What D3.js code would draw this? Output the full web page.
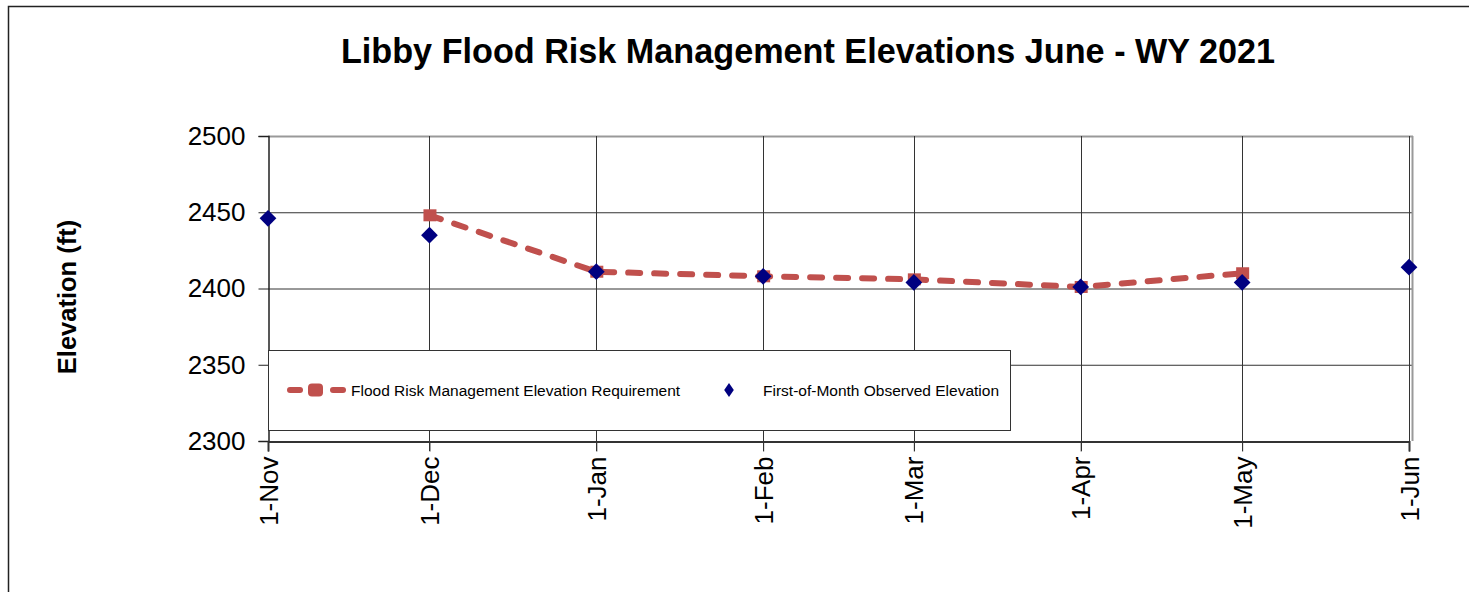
<!DOCTYPE html>
<html>
<head>
<meta charset="utf-8">
<script src="https://cdn.jsdelivr.net/npm/d3@7"></script>
<style>
  body { margin: 0; background: #fff; }
  text { font-family: "Liberation Sans", Arial, sans-serif; }
</style>
</head>
<body>
<svg width="1469" height="592"></svg>
<script>
// chart data
var tickDates = ["2020-11-01","2020-12-01","2021-01-01","2021-02-01","2021-03-01","2021-04-01","2021-05-01","2021-06-01"];
var tickLabels = ["1-Nov","1-Dec","1-Jan","1-Feb","1-Mar","1-Apr","1-May","1-Jun"];
var yTicks = [2300, 2350, 2400, 2450, 2500];

var reqDates = ["2020-12-01","2021-01-01","2021-02-01","2021-03-01","2021-04-01","2021-05-01"];
var reqValues = [2448, 2411, 2408, 2406, 2401, 2410];

var obsDates = ["2020-11-01","2020-12-01","2021-01-01","2021-02-01","2021-03-01","2021-04-01","2021-05-01","2021-06-01"];
var obsValues = [2446, 2435, 2411, 2408, 2404, 2401, 2404, 2414];

var parse = d3.timeParse("%Y-%m-%d");
var svg = d3.select('svg');

// outer chart frame
svg.append('rect')
  .attr('x', 8.5).attr('y', 6.5)
  .attr('width', 1500).attr('height', 700)
  .attr('fill', 'none').attr('stroke', '#222').attr('stroke-width', 1.5);

var plotLeft = 268, plotRight = 1409, plotTop = 136, plotBottom = 441;

var scaleX = d3.scaleTime()
  .domain([parse(tickDates[0]), parse(tickDates[tickDates.length - 1])])
  .range([plotLeft, plotRight]);
var scaleY = d3.scaleLinear().domain([2300, 2500]).range([plotBottom, plotTop]);

// horizontal grid
svg.append('g').selectAll('line')
  .data(yTicks.slice(1))
  .enter().append('line')
  .attr('x1', plotLeft).attr('x2', plotRight + 4)
  .attr('y1', function(d){ return scaleY(d) + 0.5; })
  .attr('y2', function(d){ return scaleY(d) + 0.5; })
  .attr('stroke', function(d){ return d == 2500 ? '#999' : '#333'; })
  .attr('stroke-width', function(d){ return d == 2500 ? 2 : 1; });

// vertical grid
svg.append('g').selectAll('line')
  .data(tickDates.slice(1))
  .enter().append('line')
  .attr('x1', function(d){ return Math.round(scaleX(parse(d))) + 0.5; })
  .attr('x2', function(d){ return Math.round(scaleX(parse(d))) + 0.5; })
  .attr('y1', plotTop).attr('y2', plotBottom + 10)
  .attr('stroke', '#333').attr('stroke-width', 1);

// right border of plot area
svg.append('line')
  .attr('x1', plotRight + 3.5).attr('x2', plotRight + 3.5)
  .attr('y1', plotTop).attr('y2', plotBottom)
  .attr('stroke', '#999').attr('stroke-width', 2);

// y axis
var yAxis = svg.append('g')
  .attr('transform', 'translate(' + (plotLeft + 0.5) + ',0)')
  .call(d3.axisLeft(scaleY).tickValues(yTicks).tickFormat(d3.format('d')).tickSize(10).tickPadding(13));
yAxis.selectAll('text')
  .attr('font-size', 26).attr('fill', '#000')
  .style('font-family', '"Liberation Sans", Arial, sans-serif');
yAxis.selectAll('line').attr('stroke', '#222');
yAxis.select('.domain').attr('stroke', '#222').attr('stroke-width', 1.5);

// x axis
var xAxis = svg.append('g')
  .attr('transform', 'translate(0,' + (plotBottom + 0.5) + ')')
  .call(d3.axisBottom(scaleX)
    .tickValues(tickDates.map(parse))
    .tickFormat(function(d, i){ return tickLabels[i]; })
    .tickSize(10));
xAxis.select('.domain').attr('stroke', '#333').attr('stroke-width', 2);
xAxis.selectAll('line').attr('stroke', '#333');
xAxis.selectAll('text')
  .attr('font-size', 26).attr('fill', '#000')
  .style('font-family', '"Liberation Sans", Arial, sans-serif')
  .attr('transform', 'rotate(-90)')
  .attr('text-anchor', 'end')
  .attr('x', -15).attr('y', 0).attr('dy', '0.35em');

// titles
svg.append('text')
  .attr('x', 808).attr('y', 63)
  .attr('text-anchor', 'middle')
  .attr('font-size', 34.2).attr('font-weight', 'bold')
  .text('Libby Flood Risk Management Elevations June - WY 2021');

svg.append('text')
  .attr('transform', 'translate(76,297) rotate(-90)')
  .attr('text-anchor', 'middle')
  .attr('font-size', 25.5).attr('font-weight', 'bold')
  .text('Elevation (ft)');

// requirement line
var reqData = reqDates.map(function(d, i){ return {date: parse(d), value: reqValues[i]}; });
var line = d3.line()
  .x(function(d){ return scaleX(d.date); })
  .y(function(d){ return scaleY(d.value); });

svg.append('path')
  .datum(reqData)
  .attr('d', line)
  .attr('fill', 'none')
  .attr('stroke', '#C0504D')
  .attr('stroke-width', 6)
  .attr('stroke-linecap', 'round')
  .attr('stroke-dasharray', '12,14');

svg.append('g').selectAll('rect')
  .data(reqData)
  .enter().append('rect')
  .attr('x', function(d){ return scaleX(d.date) - 6; })
  .attr('y', function(d){ return scaleY(d.value) - 6; })
  .attr('width', 13).attr('height', 12)
  .attr('fill', '#C0504D');

// observed points
var obsData = obsDates.map(function(d, i){ return {date: parse(d), value: obsValues[i]}; });
var diamond = d3.symbol().type(d3.symbolSquare).size(140);
svg.append('g').selectAll('path')
  .data(obsData)
  .enter().append('path')
  .attr('d', diamond)
  .attr('transform', function(d){
    return 'translate(' + scaleX(d.date) + ',' + scaleY(d.value) + ') rotate(45)';
  })
  .attr('fill', '#000080');

// legend
var legend = svg.append('g');
legend.append('rect')
  .attr('x', 268.5).attr('y', 350.5)
  .attr('width', 742).attr('height', 80)
  .attr('fill', '#fff').attr('stroke', '#333').attr('stroke-width', 1);

legend.append('line')
  .attr('x1', 290).attr('x2', 300).attr('y1', 390).attr('y2', 390)
  .attr('stroke', '#C0504D').attr('stroke-width', 6)
  .attr('stroke-linecap', 'round');
legend.append('line')
  .attr('x1', 333).attr('x2', 343).attr('y1', 390).attr('y2', 390)
  .attr('stroke', '#C0504D').attr('stroke-width', 6)
  .attr('stroke-linecap', 'round');
legend.append('rect')
  .attr('x', 308).attr('y', 383.5).attr('width', 15).attr('height', 13)
  .attr('rx', 4)
  .attr('fill', '#C0504D');
legend.append('text')
  .attr('x', 351).attr('y', 395.5)
  .attr('font-size', 15.5)
  .text('Flood Risk Management Elevation Requirement');

legend.append('path')
  .attr('d', d3.symbol().type(d3.symbolSquare).size(95))
  .attr('transform', 'translate(729,390) scale(0.7,1) rotate(45)')
  .attr('fill', '#000080');
legend.append('text')
  .attr('x', 763).attr('y', 395.5)
  .attr('font-size', 15.5)
  .text('First-of-Month Observed Elevation');
</script>
</body>
</html>
